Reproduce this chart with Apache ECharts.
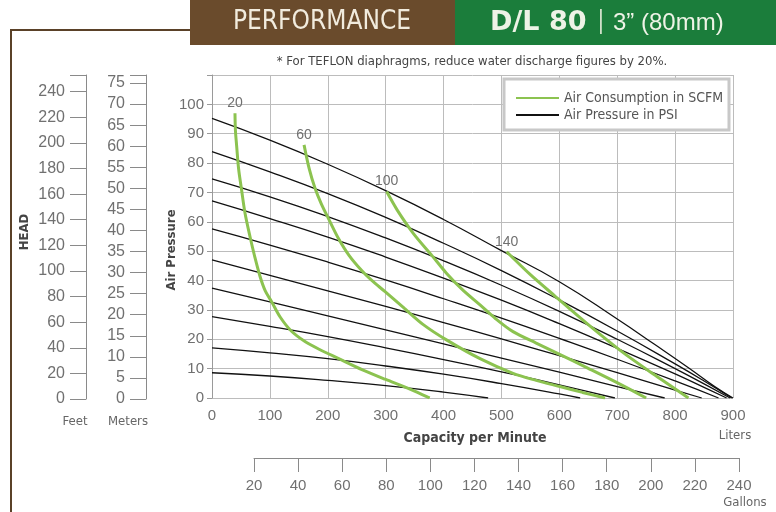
<!DOCTYPE html>
<html>
<head>
<meta charset="utf-8">
<script src="https://cdn.jsdelivr.net/npm/echarts@6/dist/echarts.min.js"></script>
<style>
  html, body { margin: 0; padding: 0; background: #fff; }
  #chart { width: 776px; height: 512px; }
</style>
</head>
<body>
<div id="chart"></div>
<script>
// 空气压力曲线（黑线），[升/分, 压力]
const psiLineA = [[0, 95.2], [100, 87.8], [200, 79.6], [300, 70.6], [400, 60.8], [500, 50.2], [600, 39.6], [700, 26.9], [765, 18.2], [823, 10.3], [869, 3.8], [900, 0]];
const psiLineB = [[0, 83.9], [100, 77.0], [200, 69.6], [300, 61.5], [400, 52.7], [500, 43.4], [600, 33.4], [700, 22.8], [800, 11.6], [850, 5.8], [898, 0]];
const psiLineC = [[0, 74.6], [100, 68.5], [200, 61.8], [300, 54.5], [400, 46.7], [500, 38.4], [600, 29.5], [700, 20.0], [800, 10.0], [850, 4.8], [895, 0]];
const psiLineD = [[0, 67.1], [100, 61.1], [200, 54.8], [300, 48.0], [400, 40.8], [500, 33.3], [600, 25.3], [700, 16.9], [800, 8.2], [850, 3.6], [889, 0]];
const psiLineE = [[0, 57.6], [100, 52.1], [200, 46.3], [300, 40.2], [400, 33.8], [500, 27.2], [600, 20.3], [700, 13.2], [800, 5.8], [875, 0]];
const psiLineF = [[0, 47.0], [100, 41.8], [200, 36.5], [300, 31.2], [400, 25.7], [500, 20.1], [600, 14.4], [700, 8.6], [800, 2.7], [846, 0]];
const psiLineG = [[0, 37.4], [100, 32.7], [200, 28.0], [300, 23.2], [400, 18.4], [500, 13.6], [600, 8.8], [700, 3.9], [782, 0]];
const psiLineH = [[0, 27.7], [100, 24.4], [200, 20.9], [300, 17.1], [400, 13.1], [500, 8.9], [600, 4.5], [696, 0]];
const psiLineI = [[0, 17.1], [100, 15.4], [200, 13.4], [300, 10.9], [400, 8.1], [500, 4.9], [600, 1.4], [636, 0]];
const psiLineJ = [[0, 8.6], [100, 7.5], [200, 6.0], [300, 4.2], [400, 2.0], [477, 0]];

// 耗气量曲线（绿线）
const scfm20 = [[39.7, 97], [40.5, 91], [42.6, 85.8], [46, 78], [51, 71], [57, 63], [65.6, 55], [74, 48], [83, 41.4], [92, 36.5], [103, 32.8], [118, 27.5], [137, 22.8], [160, 19.3], [185, 16.6], [218, 13.5], [260, 9.6], [299, 6.4], [340, 3.2], [376, 0]];
const scfm60 = [[159, 86.2], [168, 78], [178, 71.4], [189, 66], [201, 61.2], [218, 54.5], [237, 48.5], [259, 43.3], [275, 40.2], [299, 36.2], [333, 30.4], [365, 25.0], [405, 19.8], [463, 13.4], [520, 8.4], [560, 6.0], [601, 3.9], [640, 1.9], [679, 0]];
const scfm100 = [[301.7, 70.3], [320, 64], [348, 56], [380, 48.5], [405, 42.5], [433, 36.8], [463, 31.7], [490, 27], [520, 22.6], [560, 18.7], [596, 15.3], [650, 10.1], [708, 4.4], [750, 0]];
const scfm140 = [[509, 49.8], [550, 42], [592, 34.8], [650, 25], [708, 15.8], [765, 7.8], [823, 0]];
const scfmLabels = ["20", "60", "100", "140"];

const PSI_NAME = "Air Pressure in PSI";
const SCFM_NAME = "Air Consumption in SCFM";
const NARROW = "'Liberation Sans Narrow', 'DejaVu Sans Condensed', sans-serif";
const NUM = "'Liberation Sans', sans-serif";
const numLabel = { color: "#707070", fontSize: 15, fontFamily: NUM };

const psiLines = [psiLineA, psiLineB, psiLineC, psiLineD, psiLineE, psiLineF, psiLineG, psiLineH, psiLineI, psiLineJ];
const scfmLines = [scfm20, scfm60, scfm100, scfm140];

const series = [];
psiLines.forEach((d) => {
  series.push({
    name: PSI_NAME,
    type: "line",
    xAxisIndex: 0,
    yAxisIndex: 0,
    smooth: true,
    symbol: "none",
    lineStyle: { color: "#111", width: 1.3 },
    itemStyle: { color: "#111" },
    data: d,
    z: 3,
  });
});
scfmLines.forEach((d, i) => {
  series.push({
    name: SCFM_NAME,
    type: "line",
    xAxisIndex: 0,
    yAxisIndex: 0,
    smooth: 0.3,
    symbol: "circle",
    symbolSize: 0,
    lineStyle: { color: "#8cc350", width: 3 },
    itemStyle: { color: "#8cc350" },
    data: d.map((p, k) =>
      k === 0
        ? { value: p, label: { show: true, position: "top", distance: 3, formatter: scfmLabels[i], color: "#707070", fontSize: 14, fontFamily: NUM } }
        : p
    ),
    z: 4,
  });
});

const chart = echarts.init(document.getElementById("chart"));
chart.setOption({
  animation: false,
  backgroundColor: "#fff",
  grid: [
    { left: 212, right: 43, top: 75, bottom: 114 }, // 主图
    { left: 86, width: 10, top: 75, bottom: 113 }, // 英尺
    { left: 146, width: 10, top: 75, bottom: 113 }, // 米
    { left: 254, right: 37, top: 440, bottom: 54 }, // 加仑
  ],
  xAxis: [
    {
      gridIndex: 0, type: "value", min: 0, max: 900, interval: 100,
      axisLine: { show: false }, axisTick: { show: false },
      axisLabel: Object.assign({ margin: 10 }, numLabel),
      splitLine: { show: true, lineStyle: { color: "#bcbcbc", width: 1 } },
    },
    { gridIndex: 1, type: "value", show: false },
    { gridIndex: 2, type: "value", show: false },
    {
      gridIndex: 3, type: "value", min: 20, max: 240, interval: 20, position: "bottom",
      axisLine: { show: true, onZero: false, lineStyle: { color: "#8a8a8a", width: 1 } },
      axisTick: { show: true, inside: false, length: 14, lineStyle: { color: "#8a8a8a" } },
      axisLabel: Object.assign({ margin: 20 }, numLabel),
      splitLine: { show: false },
    },
  ],
  yAxis: [
    {
      gridIndex: 0, type: "value", min: 0, max: 110, interval: 10,
      axisLine: { show: true, lineStyle: { color: "#9a9a9a" } },
      axisTick: { show: true, length: 5, lineStyle: { color: "#9a9a9a" } },
      axisLabel: Object.assign({ margin: 8, formatter: (v) => (v > 100 ? "" : v) }, numLabel),
      splitLine: { show: true, lineStyle: { color: "#bcbcbc", width: 1 } },
    },
    {
      gridIndex: 1, type: "value", min: 0, max: 253, interval: 20, position: "left",
      axisLine: { show: true, lineStyle: { color: "#8a8a8a" } },
      axisTick: { show: true, length: 16, lineStyle: { color: "#8a8a8a" } },
      axisLabel: Object.assign({ margin: 21, formatter: (v) => (v % 20 === 0 ? v : "") }, numLabel, { fontSize: 16 }),
      splitLine: { show: false },
    },
    {
      gridIndex: 2, type: "value", min: 0, max: 76.9, interval: 5, position: "left",
      axisLine: { show: true, lineStyle: { color: "#8a8a8a" } },
      axisTick: { show: true, length: 16, lineStyle: { color: "#8a8a8a" } },
      axisLabel: Object.assign({ margin: 21, formatter: (v) => (v % 5 === 0 ? v : "") }, numLabel, { fontSize: 16 }),
      splitLine: { show: false },
    },
    { gridIndex: 3, type: "value", show: false },
  ],
  legend: {
    data: [SCFM_NAME, PSI_NAME],
    orient: "vertical",
    left: 503,
    top: 78,
    padding: [13, 12, 9, 12],
    itemGap: 3,
    itemWidth: 43,
    itemHeight: 14,
    z: 100,
    itemStyle: { opacity: 0 },
    textStyle: { color: "#555", fontSize: 14, fontFamily: NARROW },
  },
  graphic: [
    // 左侧和顶部的棕色边框线
    { type: "line", shape: { x1: 11, y1: 30, x2: 190, y2: 30 }, style: { stroke: "#5a4128", lineWidth: 2 }, z: 1 },
    { type: "line", shape: { x1: 11, y1: 29, x2: 11, y2: 512 }, style: { stroke: "#5a4128", lineWidth: 2 }, z: 1 },
    // 标题栏
    { type: "rect", shape: { x: 190, y: 0, width: 265, height: 45 }, style: { fill: "#6a4b2c" }, z: 1 },
    { type: "rect", shape: { x: 455, y: 0, width: 321, height: 45 }, style: { fill: "#1b7d3b" }, z: 1 },
    { type: "text", x: 322, y: 22, style: { text: "PERFORMANCE", fill: "#f1ebdd", font: "26px " + NARROW, textAlign: "center", textVerticalAlign: "middle" }, z: 2 },
    { type: "text", x: 490, y: 23, style: { text: "D/L 80", fill: "#eef3e6", font: "bold 27px 'DejaVu Sans', sans-serif", textAlign: "left", textVerticalAlign: "middle" }, z: 2 },
    { type: "text", x: 601, y: 22, style: { text: "|", fill: "#cfe0c8", font: "24px " + NARROW, textAlign: "center", textVerticalAlign: "middle" }, z: 2 },
    { type: "text", x: 613, y: 23, style: { text: "3” (80mm)", fill: "#eef3e6", font: "24px 'Liberation Sans', sans-serif", textAlign: "left", textVerticalAlign: "middle" }, z: 2 },
    // 注释
    { type: "text", x: 472, y: 62, style: { text: "* For TEFLON diaphragms, reduce water discharge figures by 20%.", fill: "#444", font: "13px " + NARROW, textAlign: "center", textVerticalAlign: "middle" }, z: 2 },
    // 图例底框
    { type: "rect", shape: { x: 504, y: 79, width: 225, height: 51 }, style: { fill: "#fff", stroke: "#c8c8c8", lineWidth: 3 }, z: 50 },
    // 轴标题
    { type: "text", x: 25, y: 232, rotation: Math.PI / 2, style: { text: "HEAD", fill: "#444", font: "bold 13px " + NARROW, textAlign: "center", textVerticalAlign: "middle" }, z: 2 },
    { type: "text", x: 172, y: 250, rotation: Math.PI / 2, style: { text: "Air Pressure", fill: "#444", font: "bold 13px " + NARROW, textAlign: "center", textVerticalAlign: "middle" }, z: 2 },
    { type: "text", x: 75, y: 422, style: { text: "Feet", fill: "#666", font: "13px " + NARROW, textAlign: "center", textVerticalAlign: "middle" }, z: 2 },
    { type: "text", x: 128, y: 422, style: { text: "Meters", fill: "#666", font: "13px " + NARROW, textAlign: "center", textVerticalAlign: "middle" }, z: 2 },
    { type: "text", x: 475, y: 438, style: { text: "Capacity per Minute", fill: "#444", font: "bold 14px " + NARROW, textAlign: "center", textVerticalAlign: "middle" }, z: 2 },
    { type: "text", x: 735, y: 436, style: { text: "Liters", fill: "#666", font: "13px " + NARROW, textAlign: "center", textVerticalAlign: "middle" }, z: 2 },
    { type: "text", x: 745, y: 503, style: { text: "Gallons", fill: "#666", font: "13px " + NARROW, textAlign: "center", textVerticalAlign: "middle" }, z: 2 },
  ],
  series: series,
});
</script>
</body>
</html>
